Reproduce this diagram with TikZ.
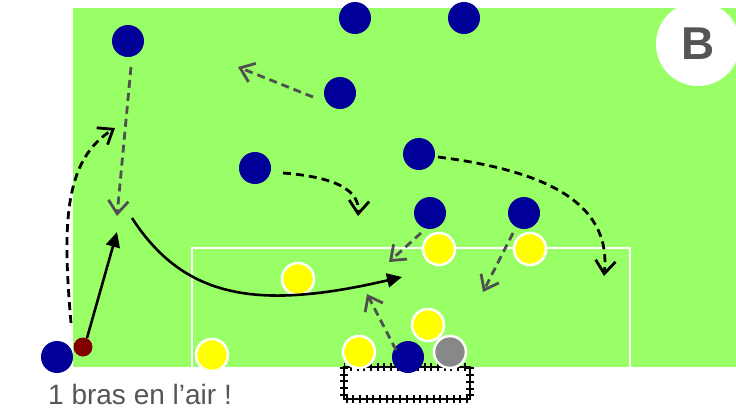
\documentclass[tikz,border=0pt]{standalone}
\usepackage{fontspec}
\setmainfont{Liberation Sans}
\usetikzlibrary{arrows.meta}
\definecolor{field}{RGB}{153,255,102}
\definecolor{pblue}{RGB}{0,0,153}
\definecolor{pyellow}{RGB}{255,255,0}
\definecolor{pgrey}{RGB}{136,136,136}
\definecolor{ballred}{RGB}{128,0,0}
\definecolor{rungrey}{RGB}{80,80,80}
\definecolor{textgrey}{RGB}{85,85,85}
\tikzset{
  bplayer/.style={circle, fill=pblue, minimum size=32pt, inner sep=0pt},
  yplayer/.style={circle, fill=pyellow, draw=white, line width=2.5pt, minimum size=32pt, inner sep=0pt},
  gplayer/.style={yplayer, fill=pgrey},
  ballstyle/.style={circle, fill=ballred, minimum size=19pt, inner sep=0pt},
  vtip/.style={-{Straight Barb[length=13pt,width=20pt]}},
  greyrun/.style={draw=rungrey, line width=2.8pt, dash pattern=on 8pt off 5pt, vtip},
  blackrun/.style={draw=black, line width=2.8pt, dash pattern=on 8pt off 5pt, vtip},
  pass/.style={draw=black, line width=2.6pt, -{Triangle[length=15pt,width=14pt]}},
  goalline/.style={draw=black, line width=2pt},
  goalticks/.style={draw=black, line width=8pt, dash pattern=on 2pt off 4.7pt},
}
\begin{document}
\begin{tikzpicture}[x=1pt,y=-1pt]
\useasboundingbox (0,0) rectangle (736,410);
% field
\fill[field] (73,8) rectangle (736,367);
% penalty box
\draw[white, line width=2pt] (192,367) -- (192,248) -- (630,248) -- (630,367);
% badge
\node[circle, fill=white, minimum size=84pt, inner sep=0pt] (badge) at (698,44) {};
\node[text=textgrey, font=\fontsize{46}{46}\selectfont\bfseries] (blabel) at (698,44) {B};
% goal
\draw[goalline] (344,367) rectangle (470,399);
\draw[goalticks] (344,367) rectangle (470,399);
% blue players
\node[bplayer] (b1) at (128,41) {};
\node[bplayer] (b2) at (355,18) {};
\node[bplayer] (b3) at (464,18) {};
\node[bplayer] (b4) at (340,93) {};
\node[bplayer] (b5) at (255,168) {};
\node[bplayer] (b6) at (419,154) {};
\node[bplayer] (b7) at (430,213) {};
\node[bplayer] (b8) at (524,213) {};
\node[bplayer] (b9) at (57,357) {};
\node[bplayer] (b10) at (408,357) {};
% yellow players
\node[yplayer] (y1) at (298,279) {};
\node[yplayer] (y2) at (212,355) {};
\node[yplayer] (y3) at (359,352) {};
\node[yplayer] (y4) at (439,249) {};
\node[yplayer] (y5) at (530,249) {};
\node[yplayer] (y6) at (428,325) {};
\node[gplayer] (keeper) at (450,352) {};
% ball
\node[ballstyle] (ball) at (83,347) {};
% text
\node[anchor=base west, inner sep=0pt, text=textgrey, font=\fontsize{28}{32}\selectfont] (caption) at (48,404.5) {1 bras en l’air !};
% arrow coordinates
\coordinate (a1s) at (131,67);   \coordinate (a1e) at (117,216);
\coordinate (a2s) at (71,323);   \coordinate (a2e) at (115,128);
\coordinate (a3s) at (87,338);   \coordinate (a3e) at (117,232);
\coordinate (a4s) at (132,218);  \coordinate (a4e) at (402,277);
\coordinate (a5s) at (313,97);   \coordinate (a5e) at (238,67);
\coordinate (a6s) at (283,173);  \coordinate (a6e) at (358,216);
\coordinate (a7s) at (438,157);  \coordinate (a7e) at (604,276);
\coordinate (a8s) at (421,233);  \coordinate (a8e) at (389,262);
\coordinate (a9s) at (513,233);  \coordinate (a9e) at (483,292);
\coordinate (a10s) at (396,350); \coordinate (a10e) at (367,294);
% runs
\draw[greyrun] (a1s) -- (a1e);
\draw[blackrun] (a2s) .. controls (62,220) and (65,160) .. (a2e);
\draw[pass] (a3s) -- (a3e);
\draw[pass] (a4s) .. controls (185,300) and (260,310) .. (a4e);
\draw[greyrun] (a5s) -- (a5e);
\draw[blackrun] (a6s) .. controls (335,177) and (360,190) .. (a6e);
\draw[blackrun] (a7s) .. controls (540,170) and (612,200) .. (a7e);
\draw[greyrun] (a8s) -- (a8e);
\draw[greyrun] (a9s) -- (a9e);
\draw[greyrun] (a10s) -- (a10e);
\end{tikzpicture}
\end{document}
